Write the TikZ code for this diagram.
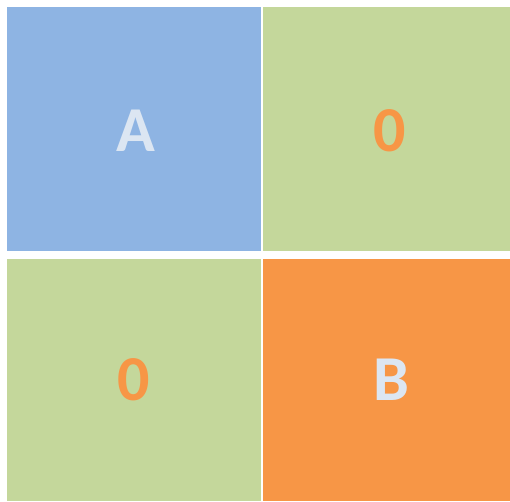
\documentclass[tikz,border=0pt]{standalone}
\usepackage{fontspec}
\setmainfont{Carlito}
\usepackage{xcolor}

\definecolor{cellblue}{HTML}{8EB4E3}
\definecolor{cellgreen}{HTML}{C4D79B}
\definecolor{cellorange}{HTML}{F79646}
\definecolor{paleletter}{HTML}{DCE6F2}

\tikzset{
  cell/.style={inner sep=0pt, outer sep=0pt, anchor=north west},
  letter/.style={inner sep=0pt, font=\fontsize{64}{64}\selectfont\bfseries},
}

\begin{document}
\begin{tikzpicture}[x=1pt,y=-1pt]
  \useasboundingbox (0,0) rectangle (510,501);

  % Top row
  \node[cell, fill=cellblue, minimum width=254pt, minimum height=244pt] (topleft) at (7,7) {};
  \node[cell, fill=cellgreen, minimum width=247pt, minimum height=244pt] (topright) at (263,7) {};
  \node[letter, text=paleletter] (lettera) at (135.5,131) {A};
  \node[letter, text=cellorange] (zerotop) at (389.5,130.5) {0};

  % Bottom row
  \node[cell, fill=cellgreen, minimum width=254pt, minimum height=242pt] (botleft) at (7,259) {};
  \node[cell, fill=cellorange, minimum width=247pt, minimum height=242pt] (botright) at (263,259) {};
  \node[letter, text=cellorange] (zerobot) at (133.5,380) {0};
  \node[letter, text=paleletter] (letterb) at (391,380) {B};
\end{tikzpicture}
\end{document}
